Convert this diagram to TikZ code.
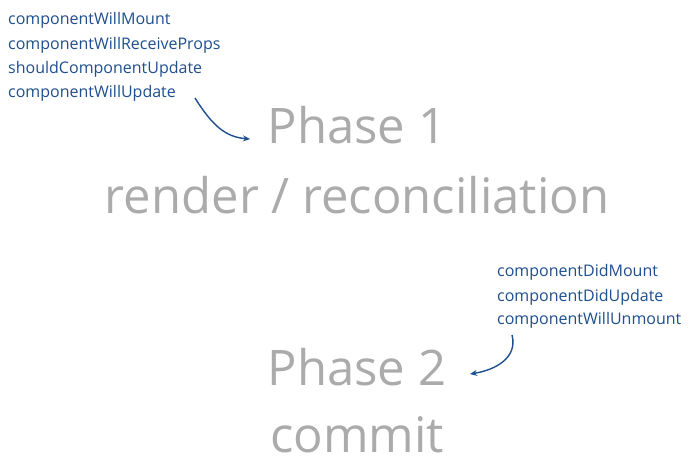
\documentclass[tikz,border=0pt]{standalone}
\usepackage{fontspec}
\setmainfont{Open Sans}
\usetikzlibrary{arrows.meta}
\definecolor{bl}{HTML}{1E4F8F}
\definecolor{gr}{HTML}{ABABAB}
\tikzset{
  hook/.style={inner sep=0pt,anchor=west,text=bl,font=\fontsize{16}{17}\selectfont},
  big/.style={inner sep=0pt,text=gr,font=\fontsize{49}{51}\selectfont},
  arr/.style={draw=bl,line width=1.4pt,-{Stealth[length=7pt,width=6pt]}}
}
\begin{document}
\begin{tikzpicture}[x=1pt,y=-1pt]
\useasboundingbox[fill=white] (0,0) rectangle (700,469);
\node[hook] (a1) at (8,20) {componentWillMount};
\node[hook] (a2) at (8,45) {componentWillReceiveProps};
\node[hook] (a3) at (8,69) {shouldComponentUpdate};
\node[hook] (a4) at (8,93) {componentWillUpdate};
\node[big] (p1) at (357,125) {Phase 1};
\node[big] (r) at (357,195) {render / reconciliation};
\node[hook] (b1) at (497,272) {componentDidMount};
\node[hook] (b2) at (497,297) {componentDidUpdate};
\node[hook] (b3) at (497,320) {componentWillUnmount};
\node[big] (p2) at (357,367) {Phase 2};
\node[big] (c) at (357,435) {commit};
\coordinate (s1) at (195,98);
\coordinate (e1) at (250,139);
\draw[arr] (s1) .. controls (212,125) and (225,137) .. (e1);
\coordinate (s2) at (512,335);
\coordinate (e2) at (470,374);
\draw[arr] (s2) .. controls (518,358) and (495,370) .. (e2);
\end{tikzpicture}
\end{document}
